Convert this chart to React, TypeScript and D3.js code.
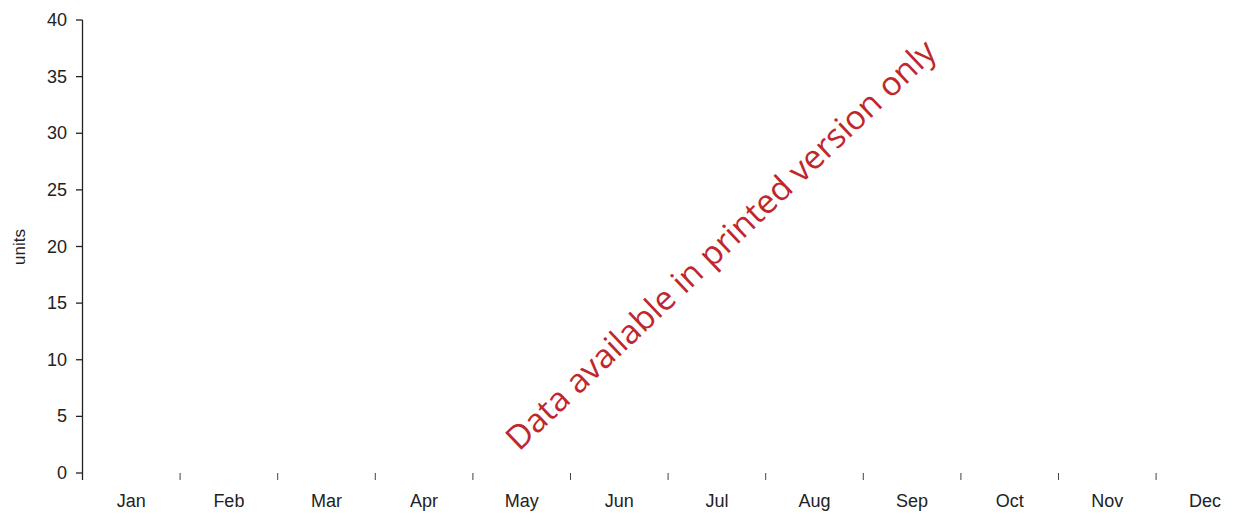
import React from "react";
import * as d3 from "d3";

const months = ["Jan", "Feb", "Mar", "Apr", "May", "Jun", "Jul", "Aug", "Sep", "Oct", "Nov", "Dec"];
const yTicks = [0, 5, 10, 15, 20, 25, 30, 35, 40];
const yLabel = "units";
const watermark = "Data available in printed version only";

const W = 1236;
const H = 516;

export default function App() {
  const x = d3.scaleBand<string>().domain(months).range([82.5, 82.5 + 12 * 97.6]);
  const y = d3.scaleLinear().domain([0, 40]).range([473, 20]);
  const boundaries = d3.range(0, 13).map((i) => x.range()[0] + i * x.step());
  const font = "'Liberation Sans', Arial, Helvetica, sans-serif";

  return (
    <svg
      width={W}
      height={H}
      style={{ position: "absolute", left: 0, top: 0, background: "#fff" }}
    >
      {/* Y axis */}
      <line x1={82.5} x2={82.5} y1={y(40)} y2={y(0) + 7} stroke="#222" strokeWidth={1.3} />
      {yTicks.map((t) => (
        <g key={t}>
          <line x1={76} x2={82.5} y1={y(t)} y2={y(t)} stroke="#222" strokeWidth={1.3} />
          <text
            x={67}
            y={y(t)}
            textAnchor="end"
            dominantBaseline="central"
            fontFamily={font}
            fontSize={18}
            fill="#222"
          >
            {t}
          </text>
        </g>
      ))}
      <text
        transform={`translate(19,247) rotate(-90)`}
        textAnchor="middle"
        dominantBaseline="central"
        fontFamily={font}
        fontSize={17}
        fill="#222"
      >
        {yLabel}
      </text>

      {/* X axis ticks */}
      {boundaries.slice(1).map((b, i) => (
        <line key={i} x1={b} x2={b} y1={473} y2={480} stroke="#444" strokeWidth={1} />
      ))}
      {months.map((m) => (
        <text
          key={m}
          x={(x(m) as number) + x.bandwidth() / 2}
          y={507}
          textAnchor="middle"
          fontFamily={font}
          fontSize={18}
          fill="#222"
        >
          {m}
        </text>
      ))}

      {/* Watermark */}
      <text
        transform={`translate(720,244) rotate(-43.5)`}
        textAnchor="middle"
        dominantBaseline="central"
        fontFamily="'Open Sans', 'Noto Sans', sans-serif"
        fontSize={33}
        fill="#c0272d"
        textLength={578}
        lengthAdjust="spacingAndGlyphs"
      >
        {watermark}
      </text>
    </svg>
  );
}
